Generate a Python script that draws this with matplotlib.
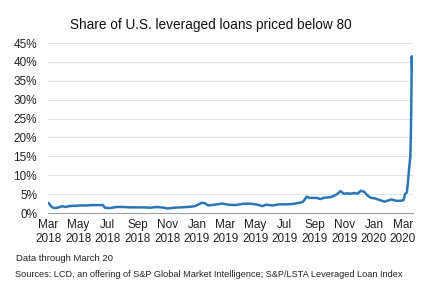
import matplotlib.pyplot as plt
import pandas as pd

plt.rcParams['font.family'] = ['Liberation Sans', 'DejaVu Sans']

# weekly-ish readings of the share (%)
dates = ['2018-03-01', '2018-03-08', '2018-03-15', '2018-03-22', '2018-03-29',
         '2018-04-05', '2018-04-12', '2018-04-19', '2018-04-26', '2018-05-03',
         '2018-05-17', '2018-05-31', '2018-06-14', '2018-06-21', '2018-06-25',
         '2018-07-05', '2018-07-19', '2018-08-02', '2018-08-16', '2018-08-30',
         '2018-09-13', '2018-09-27', '2018-10-11', '2018-10-25', '2018-11-01',
         '2018-11-15', '2018-11-29', '2018-12-13', '2018-12-27', '2019-01-03',
         '2019-01-10', '2019-01-17', '2019-01-24', '2019-02-07', '2019-02-21',
         '2019-03-07', '2019-03-21', '2019-04-04', '2019-04-18', '2019-05-02',
         '2019-05-09', '2019-05-16', '2019-05-23', '2019-06-06', '2019-06-20',
         '2019-07-04', '2019-07-18', '2019-08-01', '2019-08-08', '2019-08-15',
         '2019-08-22', '2019-09-05', '2019-09-12', '2019-09-19', '2019-10-03',
         '2019-10-10', '2019-10-17', '2019-10-24', '2019-10-31', '2019-11-07',
         '2019-11-14', '2019-11-21', '2019-11-28', '2019-12-05', '2019-12-12',
         '2019-12-19', '2019-12-26', '2020-01-02', '2020-01-09', '2020-01-16',
         '2020-01-23', '2020-01-30', '2020-02-06', '2020-02-13', '2020-02-20',
         '2020-02-27', '2020-03-02', '2020-03-05', '2020-03-09', '2020-03-11',
         '2020-03-13', '2020-03-16', '2020-03-17', '2020-03-18', '2020-03-19',
         '2020-03-20']
share = [2.6, 1.5, 1.3, 1.5, 1.8,
         1.6, 1.8, 1.9, 1.9, 2.0,
         2.0, 2.1, 2.1, 2.1, 1.4,
         1.3, 1.6, 1.6, 1.5, 1.5,
         1.5, 1.4, 1.6, 1.4, 1.2,
         1.4, 1.5, 1.6, 1.8, 2.2,
         2.7, 2.6, 2.0, 2.2, 2.5,
         2.2, 2.1, 2.4, 2.5, 2.3,
         2.1, 1.8, 2.2, 2.0, 2.3,
         2.3, 2.4, 2.7, 3.0, 4.3,
         4.0, 4.0, 3.7, 4.0, 4.2,
         4.5, 5.0, 5.8, 5.1, 5.2,
         5.1, 5.3, 5.1, 5.9, 5.6,
         4.6, 4.0, 3.9, 3.6, 3.3,
         3.0, 3.3, 3.6, 3.3, 3.2,
         3.3, 3.4, 5.0, 5.5, 8.0,
         11.0, 15.0, 20.0, 28.0, 41.5,
         37.5]
ticks = ['2018-03-01', '2018-05-01', '2018-07-01', '2018-09-01', '2018-11-01',
         '2019-01-01', '2019-03-01', '2019-05-01', '2019-07-01', '2019-09-01',
         '2019-11-01', '2020-01-01', '2020-03-01']

x = pd.to_datetime(dates)
fig = plt.figure(figsize=(4.26, 2.93), dpi=100)
ax = fig.add_axes([0.113, 0.273, 0.857, 0.58])
ax.plot(x, share, color='#2a76b8', linewidth=1.8)

ax.set_ylim(0, 45)
ax.set_yticks(range(0, 50, 5))
ax.set_yticklabels([f'{v}%' for v in range(0, 50, 5)])
ax.set_xlim(pd.Timestamp('2018-02-28'), pd.Timestamp('2020-03-22'))
tk = pd.to_datetime(ticks)
ax.set_xticks(tk)
ax.set_xticklabels([d.strftime('%b\n%Y') for d in tk], linespacing=1.25)
ax.tick_params(axis='both', length=0, labelsize=8.5, colors='#222222')
ax.tick_params(axis='x', pad=4)
ax.tick_params(axis='y', pad=8)
ax.grid(axis='y', color='#e2e2e2', linewidth=0.8)
ax.set_axisbelow(True)
for s in ['top', 'right', 'left']:
    ax.spines[s].set_visible(False)
ax.spines['bottom'].set_color('#a0a0a0')

fig.text(0.495, 0.915, 'Share of U.S. leveraged loans priced below 80',
         ha='center', va='center', fontsize=9.8, color='#111111')
fig.text(0.038, 0.117, 'Data through March 20', fontsize=6.8, color='#222222', va='center')
fig.text(0.035, 0.062, 'Sources: LCD, an offering of S&P Global Market Intelligence; '
         'S&P/LSTA Leveraged Loan Index', fontsize=6.6, color='#222222', va='center')

fig.savefig('out.png', dpi=100)
